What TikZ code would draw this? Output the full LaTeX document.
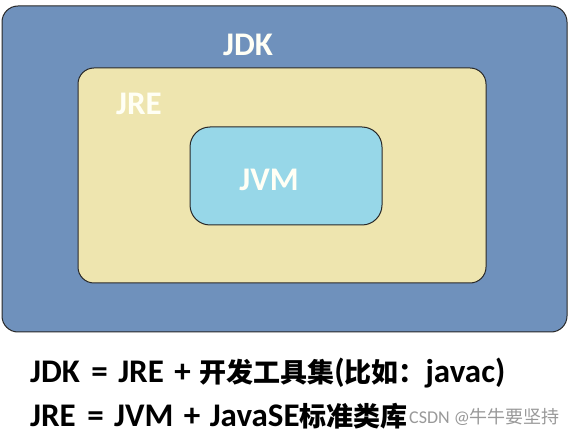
\documentclass[tikz,border=0pt]{standalone}
\usepackage{fontspec}
\setmainfont{Carlito}
\newfontfamily\cjk{Noto Sans CJK SC}
\newcommand{\zh}[1]{{\fontsize{27}{27}\selectfont\cjk\bfseries #1}}
\definecolor{jdkblue}{RGB}{111,145,188}
\definecolor{jrebeige}{RGB}{238,229,175}
\definecolor{jvmcyan}{RGB}{151,215,232}
\definecolor{edgegray}{RGB}{40,40,40}
\definecolor{labelwhite}{RGB}{255,255,245}
\begin{document}
\begin{tikzpicture}[x=1pt,y=-1pt,
  layer/.style={draw=edgegray,line width=1pt},
  boxlabel/.style={text=labelwhite,font=\fontsize{33}{33}\selectfont\bfseries,inner sep=0pt},
  formula/.style={anchor=base west,inner sep=0pt,font=\fontsize{33}{33}\selectfont\bfseries},
  wmtext/.style={anchor=base west,inner sep=0pt,text=black!40,font=\fontsize{18}{18}\selectfont}]
\useasboundingbox[fill=white] (0,0) rectangle (573,438);
\path[layer,fill=jdkblue,rounded corners=16] (2,6) rectangle (567,332);
\path[layer,fill=jrebeige,rounded corners=16] (78,68) rectangle (486,283);
\path[layer,fill=jvmcyan,rounded corners=20] (190,127) rectangle (382,225);
\node[boxlabel] (jdk) at (248,45) {JDK};
\node[boxlabel] (jre) at (139,104) {JRE};
\node[boxlabel] (jvm) at (269,180) {JVM};
\node[formula] (f1) at (30,382) {JDK\hspace{4pt} = \hspace{3pt}JRE\hspace{3pt} + \hspace{1pt}\zh{开发工具集}(\zh{比如：}javac)};
\node[formula] (f2) at (30,426) {JRE\hspace{4pt} = \hspace{3pt}JVM\hspace{3pt} + \hspace{2pt}JavaSE\zh{标准类库}};
\node[wmtext] (wm) at (409,423) {CSDN @{\cjk 牛牛要坚持}};
\end{tikzpicture}
\end{document}
